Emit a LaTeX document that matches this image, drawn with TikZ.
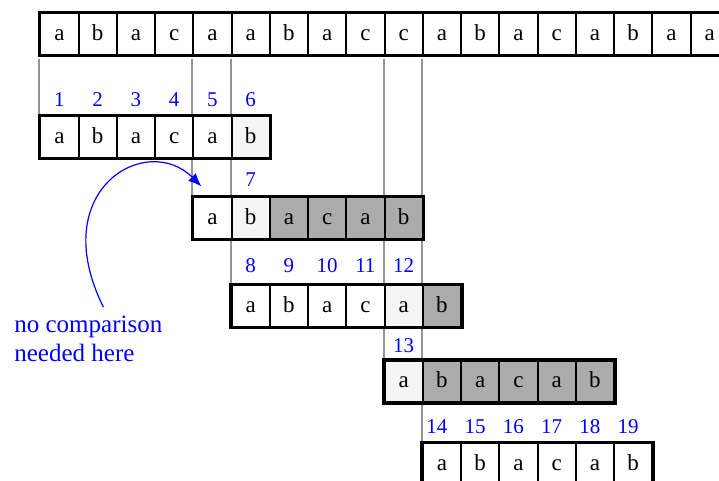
\documentclass[tikz,border=0pt]{standalone}
\usepackage{fontspec}
\setmainfont{Liberation Serif}
\usetikzlibrary{positioning, arrows.meta, backgrounds}
\colorlet{idx}{blue}
\colorlet{guide}{black!42}
\colorlet{seen}{black!4}
\colorlet{hit}{black!33}
\tikzset{
  cell/.style     ={draw=black, fill=white, line width=1pt, inner sep=0pt,
                    minimum width=19.125pt, minimum height=20.75pt,
                    text height=1.55ex, text depth=0.2ex,
                    font=\fontsize{11.5}{13}\selectfont},
  cell-seen/.style={cell, fill=seen},
  cell-hit/.style ={cell, fill=hit},
  rowframe/.style ={draw=black, line width=1.5pt},
  idxnum/.style   ={text=idx, inner sep=0pt, font=\fontsize{10.5}{12}\selectfont},
  guideline/.style={guide, line width=1pt, shorten <=1.5pt},
  note/.style     ={text=idx, align=left, inner sep=0pt, anchor=north west,
                    font=\fontsize{12.5}{14.5}\selectfont},
  noteArrow/.style={-{Latex[length=6.5pt, width=5.5pt]}, idx, line width=0.6pt},
}

\begin{document}
\begin{tikzpicture}[x=0.5pt, y=-0.5pt]
\clip (0,0) rectangle (719,481);

% --- text ---
\foreach \ch [count=\i] in {a,b,a,c,a,a,b,a,c,c,a,b,a,c,a,b,a,a}
  \node[cell] (t\i) at ({21.125+38.25*\i}, 34) {\ch};
\draw[rowframe] (t1.north west) rectangle (t18.south east);

% --- pattern, shift 0 ---
\foreach \ch/\sty [count=\i] in {a/cell, b/cell, a/cell, c/cell, a/cell, b/cell-seen}
  \node[\sty] (p1-\i) at ({21.125+38.25*\i}, 137) {\ch};
\draw[rowframe] (p1-1.north west) rectangle (p1-6.south east);

% --- pattern, shift 4 ---
\foreach \ch/\sty [count=\i] in {a/cell, b/cell-seen, a/cell-hit, c/cell-hit, a/cell-hit, b/cell-hit}
  \node[\sty] (p2-\i) at ({21.125+38.25*(\i+4)}, 218) {\ch};
\draw[rowframe] (p2-1.north west) rectangle (p2-6.south east);

% --- pattern, shift 5 ---
\foreach \ch/\sty [count=\i] in {a/cell, b/cell, a/cell, c/cell, a/cell-seen, b/cell-hit}
  \node[\sty] (p3-\i) at ({21.125+38.25*(\i+5)}, 306) {\ch};
\draw[rowframe] (p3-1.north west) rectangle (p3-6.south east);

% --- pattern, shift 9 ---
\foreach \ch/\sty [count=\i] in {a/cell-seen, b/cell-hit, a/cell-hit, c/cell-hit, a/cell-hit, b/cell-hit}
  \node[\sty] (p4-\i) at ({21.125+38.25*(\i+9)}, 381.5) {\ch};
\draw[rowframe] (p4-1.north west) rectangle (p4-6.south east);

% --- pattern, shift 10 ---
\foreach \ch [count=\i] in {a,b,a,c,a,b}
  \node[cell] (p5-\i) at ({21.125+38.25*(\i+10)}, 464) {\ch};
\draw[rowframe] (p5-1.north west) rectangle (p5-6.south east);

% --- comparison counts ---
\foreach \n [count=\i] in {1,...,6}
  \node[idxnum, above=4pt of p1-\i] (n\n) {\n};
\node[idxnum, above=4.5pt of p2-2] (n7) {7};
\foreach \n [count=\i] in {8,...,12}
  \node[idxnum, above=5.5pt of p3-\i] (n\n) {\n};
\node[idxnum, above=3.5pt of p4-1] (n13) {13};
\foreach \n [count=\i] in {14,...,19}
  \node[idxnum, above=4pt of p5-\i, xshift=-2.5pt] (n\n) {\n};

% --- alignment guides ---
\begin{scope}[on background layer]
  \foreach \a/\b in {t1/p1, t5/p2, t6/p3, t10/p4, t11/p5}
    \draw[guideline] (\a.south west) -- (\b-1.north west);
\end{scope}

% --- remark ---
\node[note] (note) at (14, 316) {no comparison\\needed here};
\coordinate (aim) at ([xshift=4.5pt, yshift=5pt]p2-1.north west);
\draw[noteArrow] ([xshift=7.5pt, yshift=4.5pt]note.north)
  .. controls +(-58,-117) and +(-55,-55) .. (aim);

\end{tikzpicture}
\end{document}
